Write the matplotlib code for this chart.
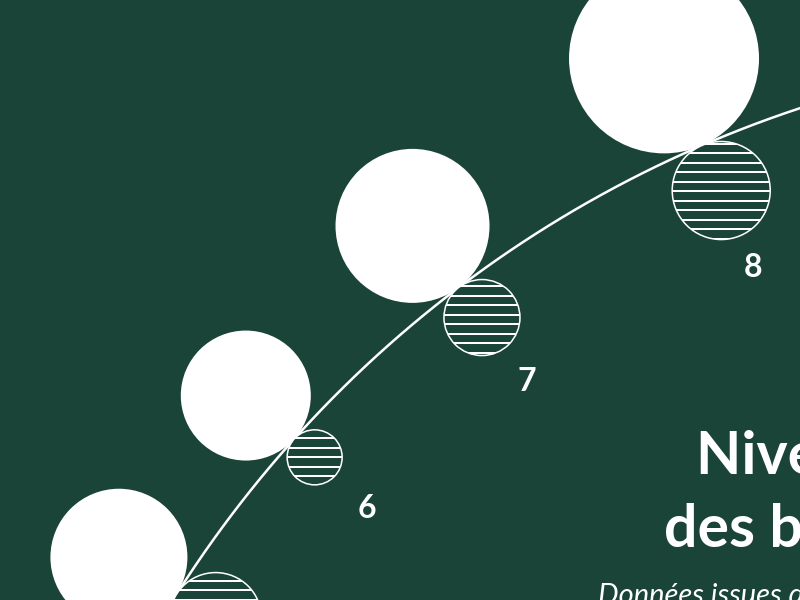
import numpy as np
import matplotlib
matplotlib.use("Agg")
import matplotlib.pyplot as plt
from matplotlib.patches import Circle

# Values (radius of each disc, in px of the 800x600 crop)
categories = ["5", "6", "7", "8"]
solid_radius = [68.5, 65, 77, 95]
hatched_radius = [46, 27.5, 38, 49]

# layout of the radial arc (center far off to the lower right)
angle_deg = [32.4, 41.9, 52.85, 66.6]
cx, cy, R = 1168, 1223, 1174
bg = "#1b4439"

title_lines = ["Niveau de vie", "des bénéficiaires"]
subtitle = "Données issues de l'enquête"

fig = plt.figure(figsize=(8, 6), dpi=100, facecolor=bg)
ax = fig.add_axes([0, 0, 1, 1])
ax.set_facecolor(bg)
ax.set_xlim(0, 800)
ax.set_ylim(600, 0)
ax.set_aspect("equal")
ax.axis("off")


def polar(rho, ang):
    a = np.deg2rad(ang)
    return cx - rho * np.cos(a), cy - rho * np.sin(a)


# the arc
t = np.linspace(0, 90, 600)
ax.plot(*polar(R, t), color="white", lw=1.8, zorder=3)

for cat, rs, rh, ang in zip(categories, solid_radius, hatched_radius, angle_deg):
    # outer solid disc, tangent to the arc
    x, y = polar(R + rs, ang)
    ax.add_patch(Circle((x, y), rs, facecolor="white", edgecolor="none", zorder=2))

    # inner hatched disc
    x, y = polar(R - rh, ang)
    disc = Circle((x, y), rh, facecolor=bg, edgecolor="white", lw=1.1, zorder=4)
    ax.add_patch(disc)
    k0 = np.ceil((y - rh - 1.3) / 9.5)
    k1 = np.floor((y + rh - 1.3) / 9.5)
    ys = 1.3 + 9.5 * np.arange(k0, k1 + 1)
    lines = ax.hlines(ys, x - rh, x + rh, color="white", lw=1.45, zorder=4)
    lines.set_clip_path(disc)

    # category label, under the hatched disc
    lx, ly = polar(R - 1.5 * rh - 56, ang - 0.15)
    ax.text(lx + 2, ly + 11.5, cat, color="white", fontsize=23, fontweight="bold",
            family="Lato", ha="center", va="baseline", zorder=5)

ax.text(696, 474, title_lines[0], color="white", fontsize=42.5, fontweight="bold",
        family="Lato", ha="left", va="baseline")
ax.text(664, 547, title_lines[1], color="white", fontsize=42.5, fontweight="bold",
        family="Lato", ha="left", va="baseline")
ax.text(598, 604, subtitle, color="white", fontsize=21, style="italic",
        family="Lato", ha="left", va="baseline")

fig.savefig("out.png", dpi=100, facecolor=bg)
